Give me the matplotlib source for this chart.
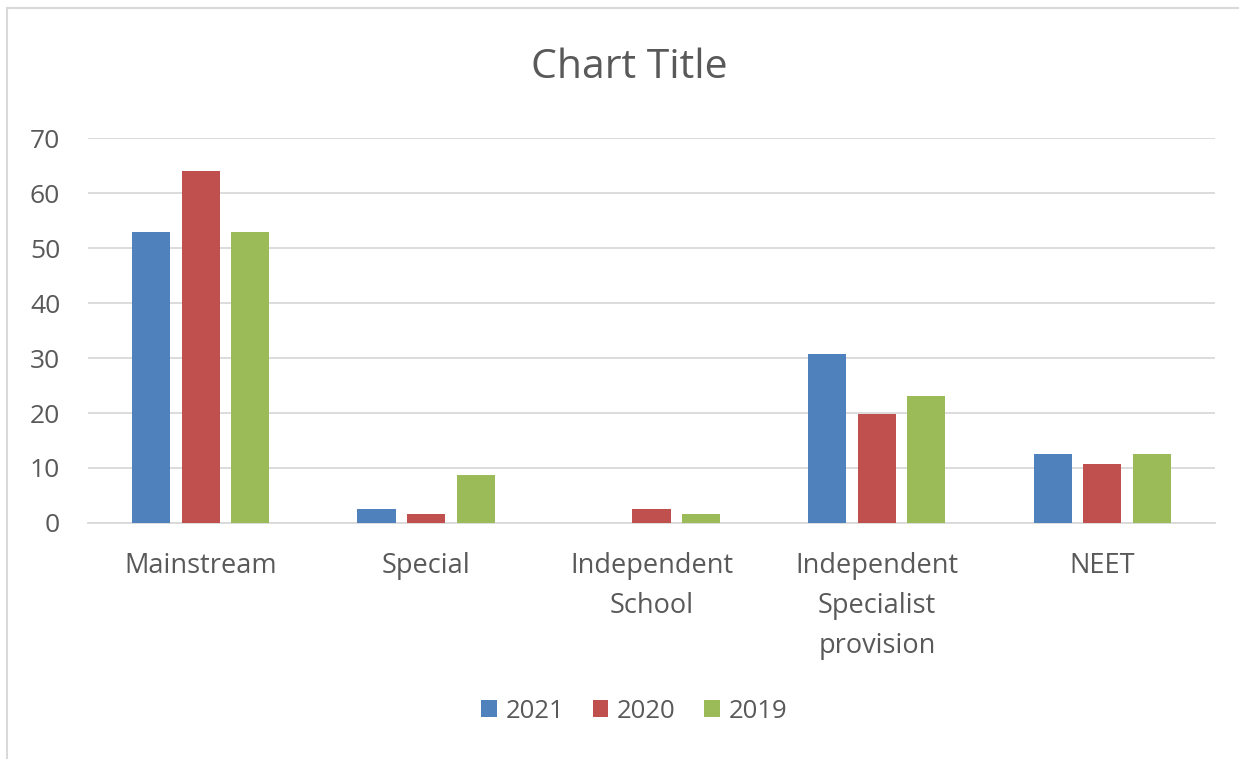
import numpy as np
import matplotlib
matplotlib.use('Agg')
import matplotlib.pyplot as plt
from matplotlib.lines import Line2D

plt.rcParams['font.family'] = ['Open Sans', 'DejaVu Sans']

# ── 데이터 ──────────────────────────────────────────
categories = ['Mainstream', 'Special', 'Independent\nSchool',
              'Independent\nSpecialist\nprovision', 'NEET']
years = ['2021', '2020', '2019']
vals_2021 = [53, 2.5, 0, 30.8, 12.5]
vals_2020 = [64, 1.6, 2.5, 19.8, 10.7]
vals_2019 = [53, 8.7, 1.6, 23.1, 12.5]
yticks = [0, 10, 20, 30, 40, 50, 60, 70]

colors = ['#4F81BD', '#C0504D', '#9BBB59']
text_col = '#595959'
grid_col = '#D9D9D9'

fig = plt.figure(figsize=(12.39, 7.59), dpi=100)
# 외곽 테두리 (왼쪽·위쪽만 보임)
fig.lines.append(Line2D([0.006, 0.006], [0.0, 0.99], transform=fig.transFigure,
                        color='#D9D9D9', linewidth=1.5))
fig.lines.append(Line2D([0.006, 1.0], [0.99, 0.99], transform=fig.transFigure,
                        color='#D9D9D9', linewidth=1.5))

ax = fig.add_axes([0.071, 0.311, 0.9096, 0.507])
x = np.arange(len(categories))
w = 0.169
off = 0.22
for i, (vals, yr) in enumerate(zip([vals_2021, vals_2020, vals_2019], years)):
    ax.bar(x + (i - 1) * off, vals, width=w, color=colors[i], label=yr, zorder=3)

ax.set_xlim(-0.5, len(categories) - 0.5)
ax.set_ylim(0, 70)
ax.set_yticks(yticks)
ax.set_xticks(x)
ax.set_xticklabels(categories, fontsize=19.5, color=text_col, linespacing=1.56)
ax.tick_params(axis='y', labelsize=19, labelcolor=text_col, length=0, pad=20)
ax.tick_params(axis='x', length=0, pad=21)
ax.grid(axis='y', color=grid_col, linewidth=1.3, zorder=0)
for s in ['top', 'right', 'left']:
    ax.spines[s].set_visible(False)
ax.spines['bottom'].set_color(grid_col)
ax.spines['bottom'].set_linewidth(1.3)

fig.text(0.508, 0.911, 'Chart Title', ha='center', va='center', fontsize=29.5, color=text_col)

fig.legend(loc='center', bbox_to_anchor=(0.512, 0.063), ncol=3, frameon=False,
           fontsize=18.5, handlelength=0.6, handleheight=0.6, handletextpad=0.35,
           columnspacing=1.1, labelcolor=text_col)

fig.savefig('out.png', dpi=100)
